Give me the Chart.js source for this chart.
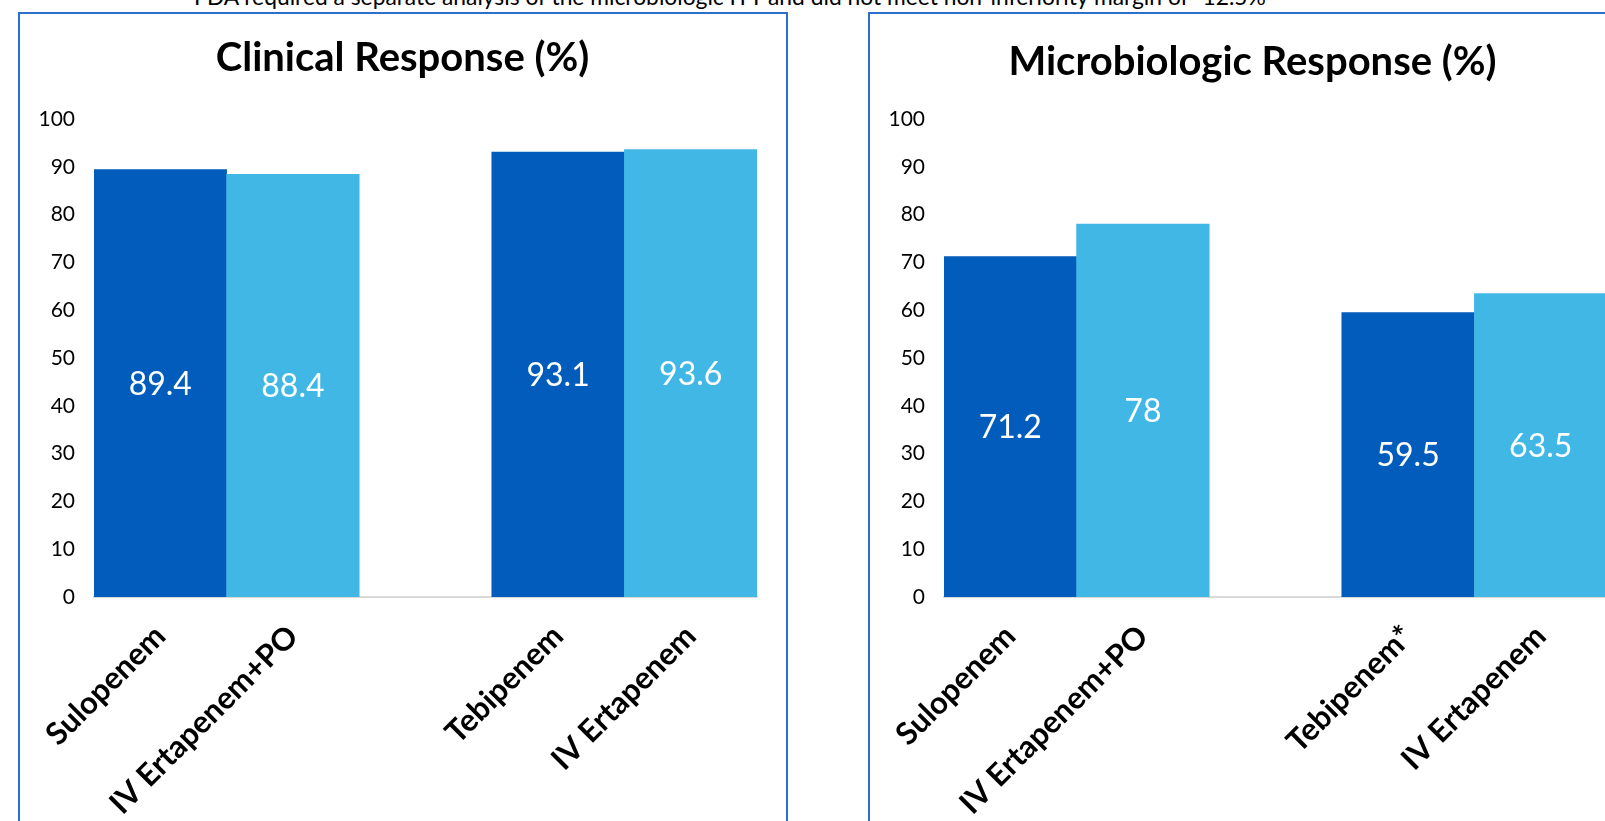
<!DOCTYPE html>
<html>
<head>
<meta charset="utf-8">
<script src="https://cdn.jsdelivr.net/npm/chart.js@4.4.1/dist/chart.umd.min.js"></script>
<style>
html,body{margin:0;padding:0;background:#fff;overflow:hidden;width:1605px;height:821px;}
.panel{position:absolute;border:2px solid #2D6FCC;box-sizing:border-box;background:#fff;}
#p1{left:18px;top:12px;width:770px;height:840px;}
#p2{left:868px;top:12px;width:800px;height:840px;}
canvas{position:absolute;}
#c1{left:20px;top:14px;}
#c2{left:870px;top:14px;}
#note{position:absolute;left:194px;top:-15px;font:22.8px Lato, sans-serif;line-height:23px;white-space:nowrap;color:#000;}
</style>
</head>
<body>
<div id="note">FDA required a separate analysis of the microbiologic ITT and did not meet non-inferiority margin of -12.5%</div>
<div class="panel" id="p1"></div>
<div class="panel" id="p2"></div>
<canvas id="c1" width="765" height="807"></canvas>
<canvas id="c2" width="765" height="807"></canvas>
<script>
// ---- data ----
const clinicalTitle = "Clinical Response (%)";
const clinicalCategories = ["Sulopenem", "IV Ertapenem+PO", "", "Tebipenem", "IV Ertapenem"];
const clinicalValues = [89.4, 88.4, null, 93.1, 93.6];

const microTitle = "Microbiologic Response (%)";
const microCategories = ["Sulopenem", "IV Ertapenem+PO", "", "Tebipenem*", "IV Ertapenem"];
const microValues = [71.2, 78, null, 59.5, 63.5];

const yMin = 0, yMax = 100, yStep = 10;

// ---- style ----
const DARK = "#015CBB", LIGHT = "#41B7E6";
const barColors = [DARK, LIGHT, DARK, DARK, LIGHT];

const valueLabels = {
  id: "valueLabels",
  afterDatasetsDraw(chart) {
    const ctx = chart.ctx;
    const ds = chart.data.datasets[0];
    const meta = chart.getDatasetMeta(0);
    ctx.save();
    ctx.fillStyle = "#ffffff";
    ctx.font = "32px Lato, sans-serif";
    ctx.textAlign = "center";
    ctx.textBaseline = "middle";
    meta.data.forEach((el, i) => {
      const v = ds.data[i];
      if (v === null || v === undefined) return;
      ctx.fillText(String(v), el.x, (el.y + el.base) / 2 + 1);
    });
    ctx.restore();
  }
};

const centeredTitle = {
  id: "centeredTitle",
  afterDraw(chart, args, opts) {
    const ctx = chart.ctx;
    ctx.save();
    ctx.fillStyle = "#000";
    ctx.font = "bold 40px Lato, sans-serif";
    ctx.textAlign = "center";
    ctx.textBaseline = "middle";
    ctx.fillText(opts.text, chart.width / 2, opts.y);
    ctx.restore();
  }
};

function makeChart(id, title, cats, vals, titleY) {
  return new Chart(document.getElementById(id), {
    type: "bar",
    data: {
      labels: cats,
      datasets: [{
        data: vals,
        backgroundColor: barColors,
        borderWidth: 0,
        barPercentage: 1,
        categoryPercentage: 1
      }]
    },
    plugins: [valueLabels, centeredTitle],
    options: {
      responsive: false,
      devicePixelRatio: 1,
      animation: false,
      layout: { padding: { left: 0, right: 28, top: 105, bottom: 0 } },
      plugins: {
        legend: { display: false },
        tooltip: { enabled: false },
        title: { display: false },
        centeredTitle: { text: title, y: titleY }
      },
      scales: {
        x: {
          grid: { display: false },
          border: { display: true, color: "#D9D9D9", width: 2 },
          ticks: {
            color: "#000",
            font: { family: "Lato", size: 31, weight: "bold" },
            minRotation: 45,
            maxRotation: 45,
            autoSkip: false,
            padding: 13
          },
          afterFit(scale) { scale.height = 224; }
        },
        y: {
          min: yMin,
          max: yMax,
          grid: { display: false, drawTicks: false },
          border: { display: false },
          ticks: {
            stepSize: yStep,
            color: "#000",
            font: { family: "Lato", size: 21 },
            padding: 19
          },
          afterFit(scale) { scale.width = 74; }
        }
      }
    }
  });
}

function build() {
  makeChart("c1", clinicalTitle, clinicalCategories, clinicalValues, 44);
  makeChart("c2", microTitle, microCategories, microValues, 48);
}
Promise.all([
  document.fonts.load("bold 40px Lato"),
  document.fonts.load("32px Lato"),
  document.fonts.load("21px Lato")
]).then(build, build);
</script>
</body>
</html>
